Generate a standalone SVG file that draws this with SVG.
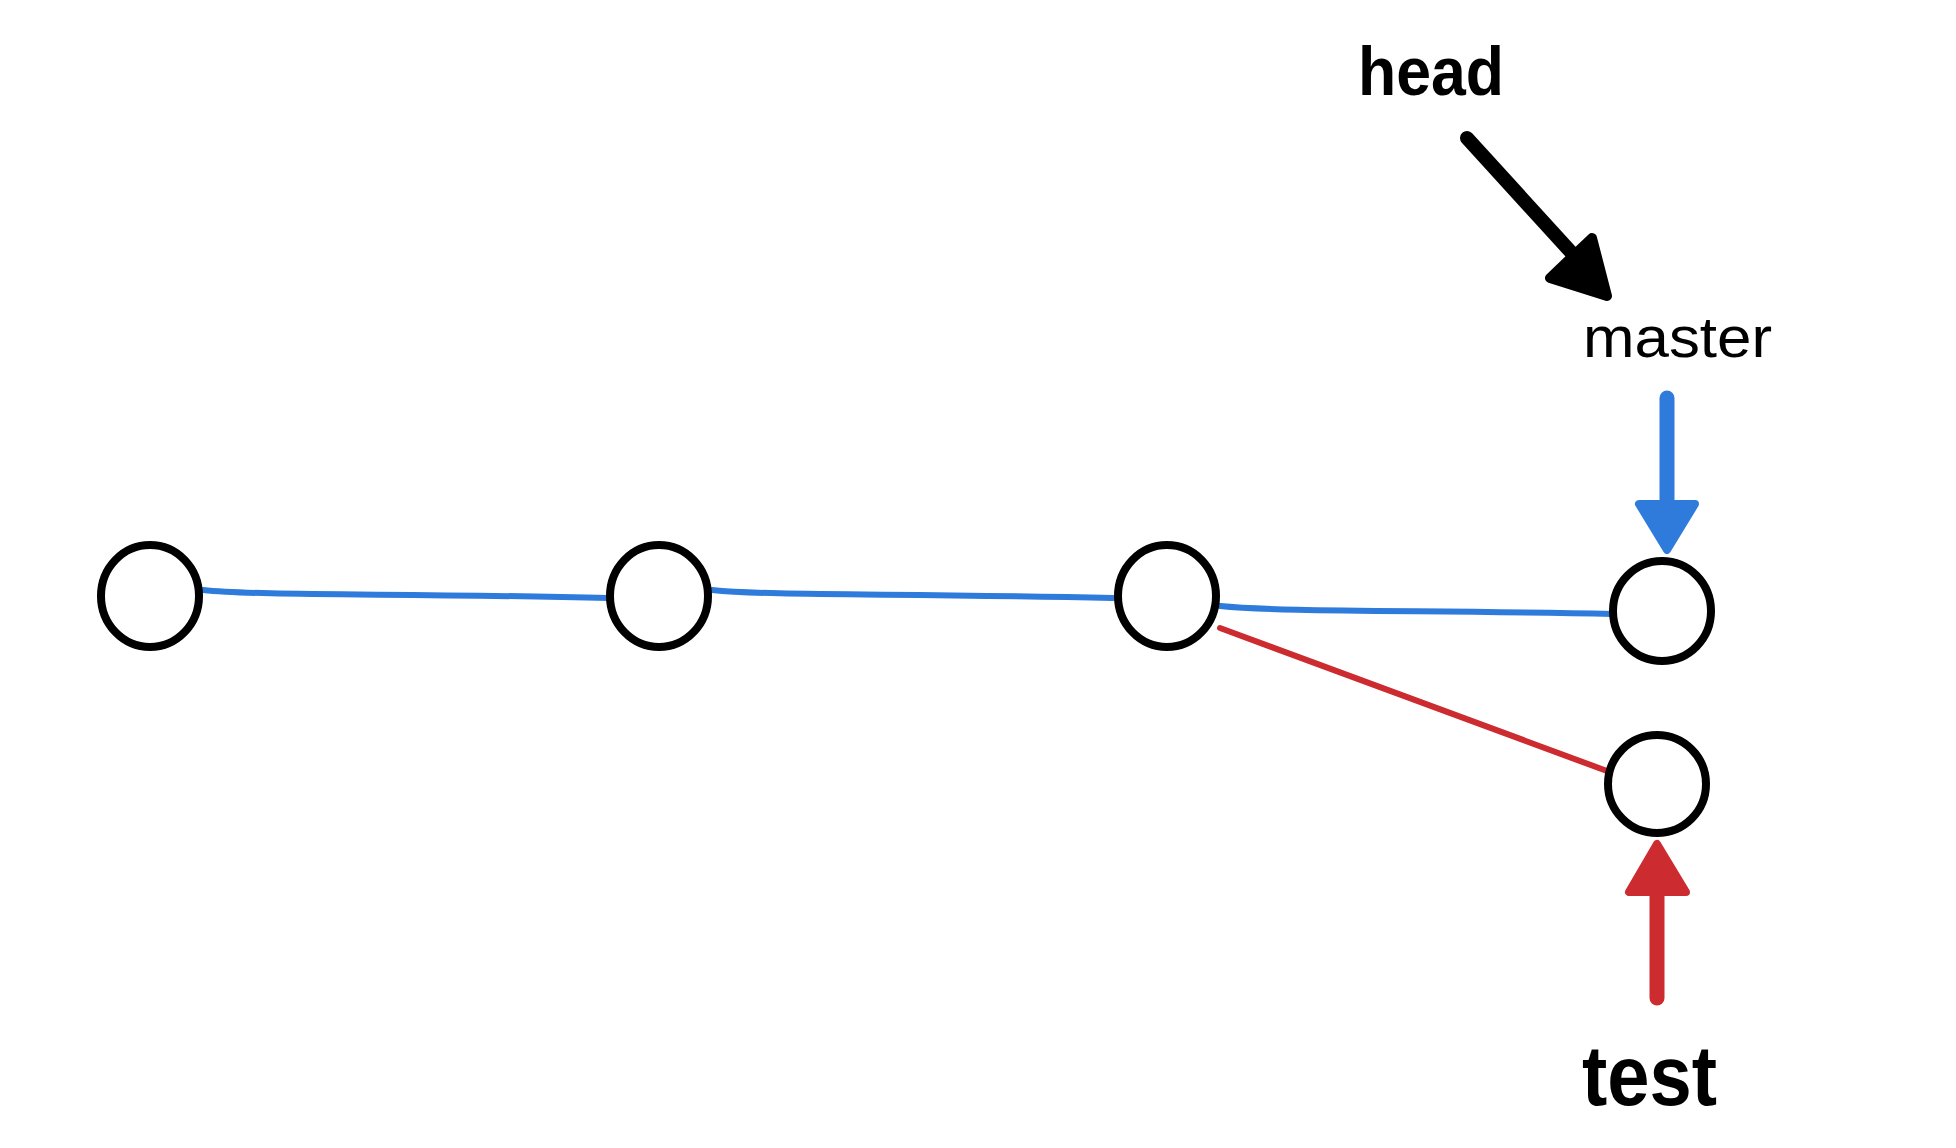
<svg xmlns="http://www.w3.org/2000/svg" width="1956" height="1148" viewBox="0 0 1956 1148">
  <style>
    .node { fill: #ffffff; stroke: #000000; stroke-width: 8; }
    .blue { fill: none; stroke: #2f7bdc; stroke-width: 6; stroke-linecap: round; }
    .red { fill: none; stroke: #cc2b30; stroke-width: 6; stroke-linecap: round; }
    .lbl { font-family: "Liberation Sans", Arial, sans-serif; fill: #000000; }
  </style>
  <rect width="1956" height="1148" fill="#ffffff"/>
  <g id="connectors">
    <path class="blue" d="M203,590 C260,596 400,593 609,598"/>
    <path class="blue" d="M712,590 C770,596 900,593 1113,598"/>
    <path class="blue" d="M1220,606 C1280,612 1420,610 1613,614"/>
    <path class="red" d="M1220,628 L1607,771"/>
    <g id="head-arrow">
      <line x1="1467" y1="138" x2="1580" y2="262" stroke="#000" stroke-width="14" stroke-linecap="round"/>
      <polygon points="1550,278 1592,238 1607,296" fill="#000" stroke="#000" stroke-width="10" stroke-linejoin="round"/>
    </g>
    <g id="master-arrow">
      <line x1="1667" y1="398" x2="1667" y2="505" stroke="#2f7bdc" stroke-width="15" stroke-linecap="round"/>
      <polygon points="1639,504 1695,504 1667,550" fill="#2f7bdc" stroke="#2f7bdc" stroke-width="8" stroke-linejoin="round"/>
    </g>
    <g id="test-arrow">
      <line x1="1657" y1="998" x2="1657" y2="890" stroke="#cc2b30" stroke-width="15" stroke-linecap="round"/>
      <polygon points="1629,892 1686,892 1657,844" fill="#cc2b30" stroke="#cc2b30" stroke-width="8" stroke-linejoin="round"/>
    </g>
  </g>
  <g id="node1"><ellipse class="node" cx="150" cy="596" rx="49" ry="51"/></g>
  <g id="node2"><ellipse class="node" cx="659" cy="596" rx="49" ry="51"/></g>
  <g id="node3"><ellipse class="node" cx="1167" cy="596" rx="49" ry="51"/></g>
  <g id="node4"><ellipse class="node" cx="1662" cy="611" rx="49" ry="50"/></g>
  <g id="node5"><ellipse class="node" cx="1657" cy="784" rx="49" ry="49"/></g>
  <g id="label-head"><text class="lbl" x="1358" y="95" font-size="68" font-weight="bold" textLength="146" lengthAdjust="spacingAndGlyphs">head</text></g>
  <g id="label-master"><text class="lbl" x="1583" y="357" font-size="58" textLength="189" lengthAdjust="spacingAndGlyphs">master</text></g>
  <g id="label-test"><text class="lbl" x="1582" y="1105" font-size="86" font-weight="bold" textLength="135" lengthAdjust="spacingAndGlyphs">test</text></g>
</svg>
